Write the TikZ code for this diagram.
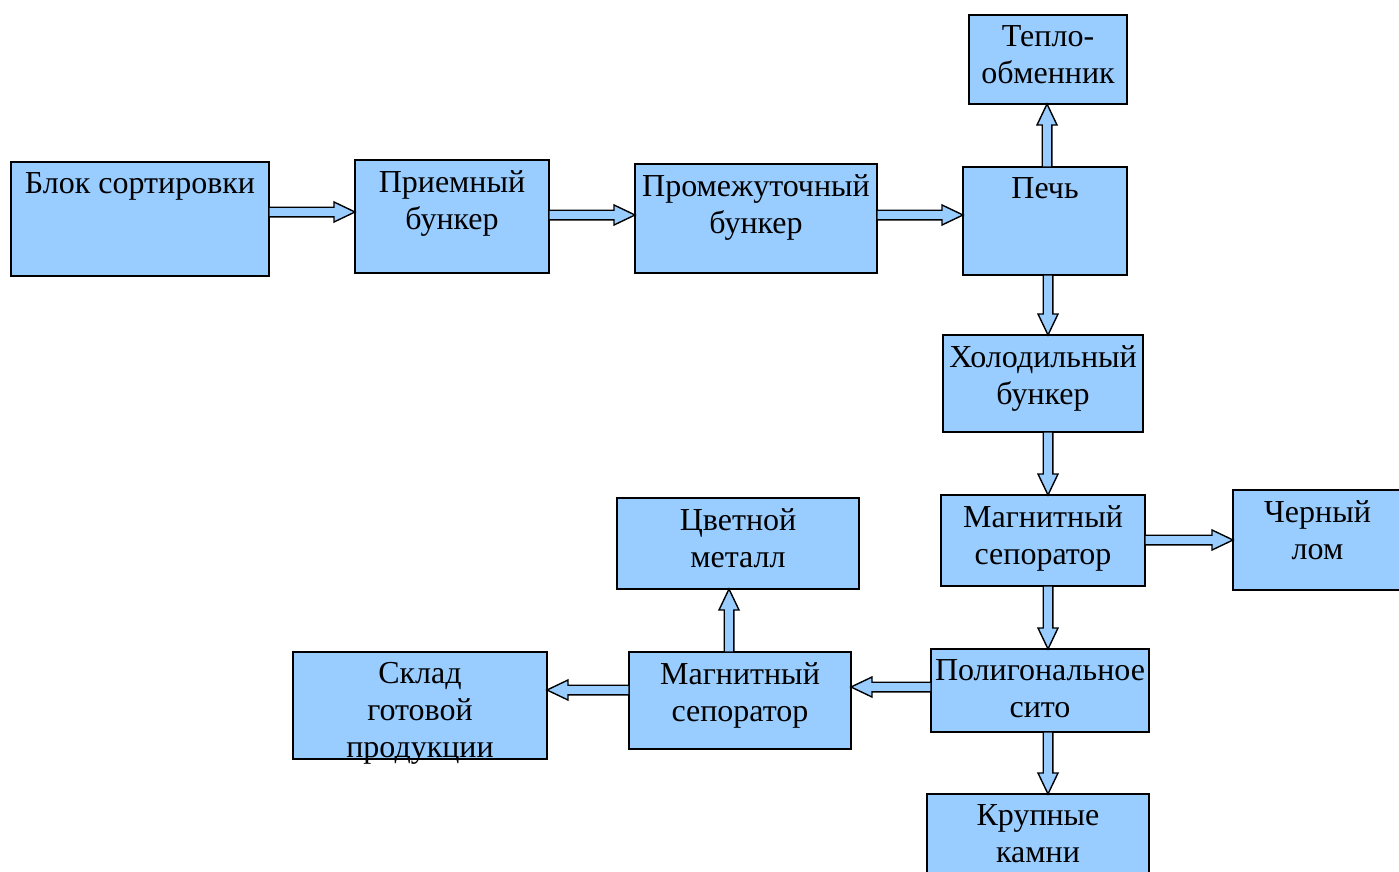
\documentclass[tikz,border=0pt]{standalone}
\usepackage{fontspec}
\setmainfont{Liberation Serif}
\usetikzlibrary{calc}
\definecolor{boxblue}{HTML}{99CCFF}
\tikzset{
  box/.style={draw=black, line width=1.6pt, fill=boxblue, inner sep=0pt, outer sep=0pt},
  lbl/.style={anchor=north, align=center, inner sep=0pt, text=black,
              font=\fontsize{32}{37}\selectfont},
  arr/.style={draw=black, line width=1.4pt, fill=boxblue, line join=miter},
}
% rectangular unit: name, left, top, right, bottom, caption
\newcommand\unitbox[6]{%
  \node[box, minimum width={#4-#2}, minimum height={#5-#3}]
    (#1) at ({(#2+#4)/2},{(#3+#5)/2}) {};
  \node[lbl] (#1-t) at ([yshift=-10pt]#1.north) {#6};
}
% hollow block arrow from #1 to #2
\newcommand\flow[2]{%
  \coordinate (fa) at #1;
  \coordinate (fb) at #2;
  \coordinate (fc) at ($(fb)!21pt!(fa)$);
  \draw[arr] ($(fa)!4.8pt!90:(fb)$) -- ($(fc)!4.8pt!90:(fb)$)
    -- ($(fc)!10pt!90:(fb)$) -- (fb) -- ($(fc)!10pt!-90:(fb)$)
    -- ($(fc)!4.8pt!-90:(fb)$) -- ($(fa)!4.8pt!-90:(fb)$) -- cycle;
}
\begin{document}
\begin{tikzpicture}[x=1pt,y=-1pt]
\useasboundingbox (0,0) rectangle (1399,872);

\unitbox{sort}{11}{162}{269}{276}{Блок сортировки}
\unitbox{recv}{355}{160}{549}{273}{Приемный\\бункер}
\unitbox{mid}{635}{164}{877}{273}{Промежуточный\\бункер}
\unitbox{furn}{963}{167}{1127}{275}{Печь}
\unitbox{heat}{969}{15}{1127}{104}{Тепло-\\обменник}
\unitbox{cool}{943}{335}{1143}{432}{Холодильный\\бункер}
\unitbox{magA}{941}{495}{1145}{586}{Магнитный\\сепоратор}
\unitbox{ferr}{1233}{490}{1402}{590}{Черный\\лом}
\unitbox{sieve}{931}{649}{1149}{732}{Полигональное\\сито}
\unitbox{stones}{927}{794}{1149}{878}{Крупные\\камни}
\unitbox{magB}{629}{652}{851}{749}{Магнитный\\сепоратор}
\unitbox{nonf}{617}{498}{859}{589}{Цветной\\металл}
\unitbox{store}{293}{652}{547}{759}{Склад\\готовой\\продукции}

% material flow
\flow{(sort.east |- 0,212)}{(recv.west |- 0,212)}
\flow{(recv.east |- 0,215)}{(mid.west |- 0,215)}
\flow{(mid.east |- 0,215)}{(furn.west |- 0,215)}
\flow{(furn.north -| 1047,0)}{(heat.south -| 1047,0)}
\flow{(furn.south -| 1048,0)}{(cool.north -| 1048,0)}
\flow{(cool.south -| 1048,0)}{(magA.north -| 1048,0)}
\flow{(magA.east |- 0,540)}{(ferr.west |- 0,540)}
\flow{(magA.south -| 1048,0)}{(sieve.north -| 1048,0)}
\flow{(sieve.west |- 0,687)}{(magB.east |- 0,687)}
\flow{(sieve.south -| 1048,0)}{(stones.north -| 1048,0)}
\flow{(magB.north -| 729,0)}{(nonf.south -| 729,0)}
\flow{(magB.west |- 0,690)}{(store.east |- 0,690)}
\end{tikzpicture}
\end{document}
